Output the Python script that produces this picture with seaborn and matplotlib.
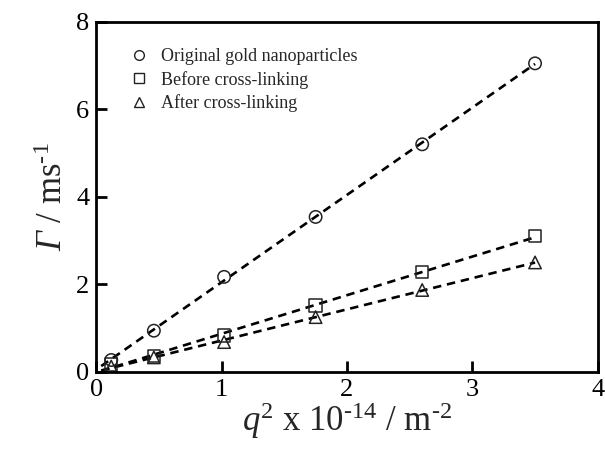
import numpy as np
import pandas as pd
import matplotlib
matplotlib.use("Agg")
import matplotlib.pyplot as plt
import seaborn as sns

# q^2 values (x 10^-14 m^-2)
q2 = [0.12, 0.46, 1.02, 1.75, 2.6, 3.5]
# decay rates (ms^-1)
gamma_original = [0.27, 0.94, 2.17, 3.54, 5.2, 7.05]
gamma_before = [0.17, 0.36, 0.83, 1.52, 2.28, 3.1]
gamma_after = [0.12, 0.33, 0.68, 1.25, 1.87, 2.5]
series_names = ["Original gold nanoparticles", "Before cross-linking", "After cross-linking"]

sns.set_theme(style="ticks")
plt.rcParams['font.family'] = ['Liberation Serif', 'DejaVu Serif']
plt.rcParams['mathtext.fontset'] = 'custom'
plt.rcParams['mathtext.rm'] = 'Liberation Serif'
plt.rcParams['mathtext.it'] = 'Liberation Serif:italic'
# italic slot for the capital Gamma (mathtext forces Greek capitals upright in 'it')
plt.rcParams['mathtext.sf'] = 'Liberation Serif:italic'

df = pd.DataFrame({
    "q2": q2 * 3,
    "gamma": gamma_original + gamma_before + gamma_after,
    "sample": [series_names[0]] * 6 + [series_names[1]] * 6 + [series_names[2]] * 6,
})

fig = plt.figure(figsize=(6.05, 4.54), dpi=100)
ax = fig.add_axes([0.159, 0.181, 0.829, 0.771])

# dashed linear fits
for vals in [gamma_original, gamma_before, gamma_after]:
    m, b = np.polyfit(q2, vals, 1)
    xs = np.array([0.04, q2[-1]])
    ax.plot(xs, m * xs + b, ls=(0, (3.2, 2.2)), color='black', lw=1.9, zorder=1)

sns.scatterplot(data=df, x="q2", y="gamma", style="sample",
                markers={series_names[0]: 'o', series_names[1]: 's', series_names[2]: '^'},
                s=80, facecolor='none', edgecolor='#222222', linewidth=1.1,
                ax=ax, zorder=2, legend=False)

# legend built from the same marker styles
handles = [plt.Line2D([], [], ls='none', marker=mk, ms=7, mfc='none', mec='#222222', mew=1.0)
           for mk in ['o', 's', '^']]
ax.legend(handles, series_names, loc='upper left', bbox_to_anchor=(0.05, 0.945), frameon=False,
          fontsize=13, handletextpad=0.6, labelspacing=0.3, borderaxespad=0, handlelength=1.2)

ax.set_xlim(0, 4)
ax.set_ylim(0, 8)
ax.set_xticks([0, 1, 2, 3, 4])
ax.set_yticks([0, 2, 4, 6, 8])
ax.tick_params(direction='in', length=8, width=2, labelsize=19, colors='black', pad=5)
for sp in ax.spines.values():
    sp.set_linewidth(2)
    sp.set_color('black')

ax.set_xlabel("$\\mathit{q}^{2}$ x 10$^{\u2010 14}$ / m$^{\u2010 2}$", fontsize=25, labelpad=0)
ax.set_ylabel("$\\mathsf{\u0393}$ / ms$^{\u2010 1}$", fontsize=25, labelpad=4)

fig.savefig("out.png", dpi=100)
